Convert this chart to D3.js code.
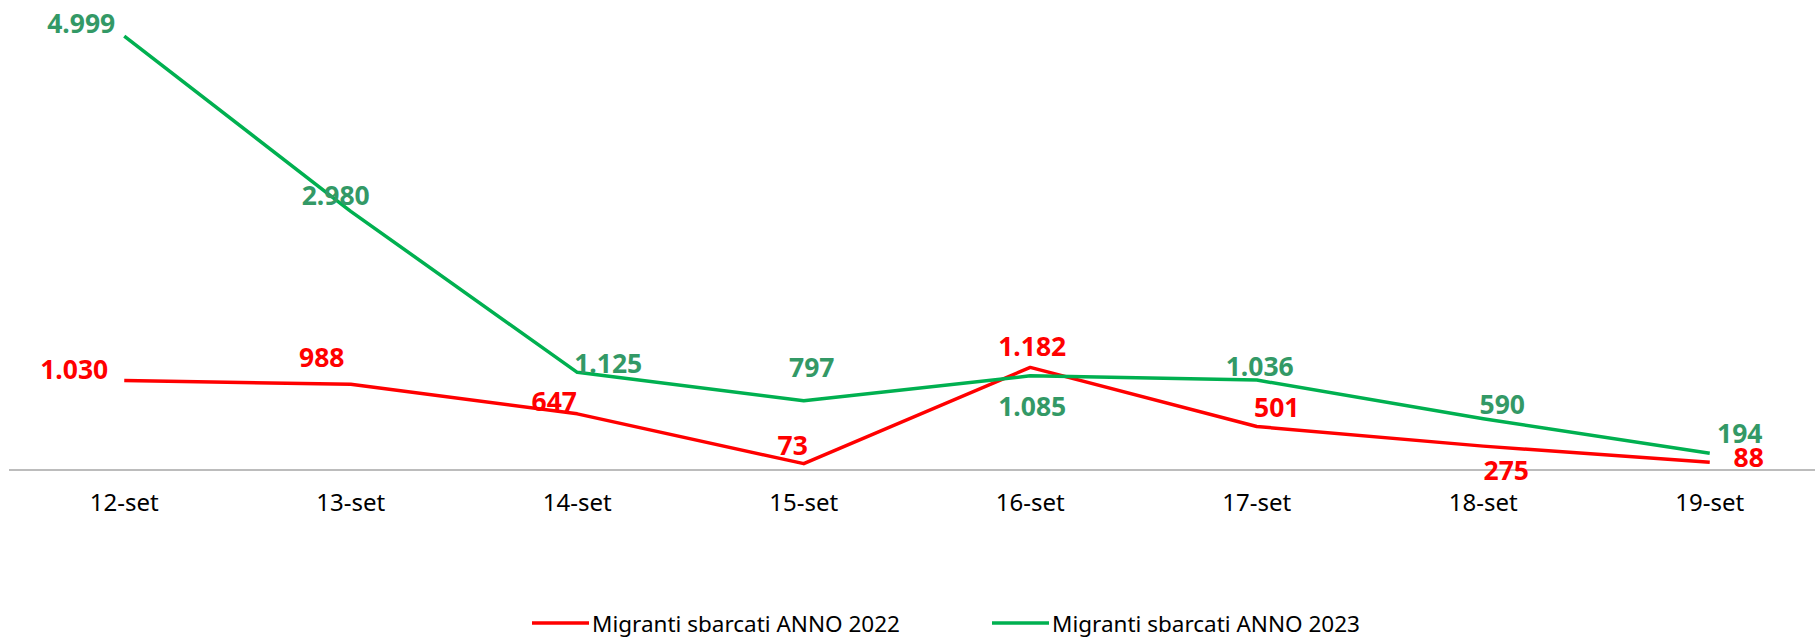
<!DOCTYPE html>
<html>
<head>
<meta charset="utf-8">
<script src="https://cdn.jsdelivr.net/npm/d3@7"></script>
<style>
  body { margin: 0; background: #fff; }
</style>
</head>
<body>
<div id="chart"></div>
<script>
// data
const days = ["12-set", "13-set", "14-set", "15-set", "16-set", "17-set", "18-set", "19-set"];
const values2022 = [1030, 988, 647, 73, 1182, 501, 275, 88];
const values2023 = [4999, 2980, 1125, 797, 1085, 1036, 590, 194];
const labels2022 = ["1.030", "988", "647", "73", "1.182", "501", "275", "88"];
const labels2023 = ["4.999", "2.980", "1.125", "797", "1.085", "1.036", "590", "194"];
// where each data label sits relative to its point (label centre offset)
const offsets2022 = [[-50, -12], [-29, -27], [-23, -13], [-11, -19], [2, -21], [20, -20], [23, 24], [39, -5]];
const offsets2023 = [[-43, -13], [-15, -16], [31, -9], [8, -34], [2, 30], [3, -14], [19, -15], [30, -20]];

const width = 1820;
const height = 638;
const margin = { top: 36, right: -3, bottom: 168, left: 11 };
const chartWidth = width - margin.left - margin.right;
const chartHeight = height - margin.top - margin.bottom;

const series = [
  { name: "Migranti sbarcati ANNO 2022", values: values2022, labels: labels2022, offsets: offsets2022, line: "#FF0000", text: "#FF0000" },
  { name: "Migranti sbarcati ANNO 2023", values: values2023, labels: labels2023, offsets: offsets2023, line: "#00B050", text: "#339966" }
];

const svg = d3
  .select("#chart")
  .append("svg")
  .attr("width", width)
  .attr("height", height)
  .style("font-family", "'Noto Sans', 'Open Sans', sans-serif");

const chart = svg
  .append("g")
  .attr("transform", `translate(${margin.left}, ${margin.top})`);

const xScale = d3.scaleBand().domain(days).range([0, chartWidth]);

const yScale = d3.scaleLinear().domain([0, 5000]).range([chartHeight, 0]);

// x axis
const xAxis = d3.axisBottom(xScale).tickSize(0).tickPadding(24);
const xAxisGroup = chart
  .append("g")
  .attr("transform", `translate(0, ${chartHeight})`)
  .call(xAxis);
xAxisGroup
  .select(".domain")
  .attr("d", `M-2,0H${chartWidth - 8}`)
  .attr("stroke", "#A6A6A6")
  .attr("stroke-width", 1.5);
xAxisGroup
  .selectAll(".tick text")
  .style("font-family", "'Noto Sans', sans-serif")
  .style("font-size", "24px")
  .style("fill", "#000");

const cx = (i) => xScale(days[i]) + xScale.bandwidth() / 2;

const line = d3
  .line()
  .x((d, i) => cx(i))
  .y((d) => yScale(d));

series.forEach((s) => {
  chart
    .append("path")
    .datum(s.values)
    .attr("fill", "none")
    .attr("stroke", s.line)
    .attr("stroke-width", 3.5)
    .attr("stroke-linejoin", "round")
    .attr("d", line);
});

// data labels
series.forEach((s) => {
  chart
    .selectAll(null)
    .data(s.values)
    .enter()
    .append("text")
    .attr("x", (d, i) => cx(i) + s.offsets[i][0])
    .attr("y", (d, i) => yScale(d) + s.offsets[i][1])
    .attr("text-anchor", "middle")
    .attr("dominant-baseline", "central")
    .style("font-size", "26.5px")
    .style("font-weight", "bold")
    .style("fill", s.text)
    .text((d, i) => s.labels[i]);
});

// legend
const legendX = [532, 992];
series.forEach((s, i) => {
  const g = svg.append("g").attr("transform", `translate(${legendX[i]}, 623)`);
  g.append("line")
    .attr("x1", 0)
    .attr("x2", 57)
    .attr("y1", 0)
    .attr("y2", 0)
    .attr("stroke", s.line)
    .attr("stroke-width", 3.5);
  g.append("text")
    .attr("x", 60)
    .attr("y", 0)
    .attr("dominant-baseline", "central")
    .style("font-size", "22.5px")
    .style("fill", "#000")
    .text(s.name);
});
</script>
</body>
</html>
